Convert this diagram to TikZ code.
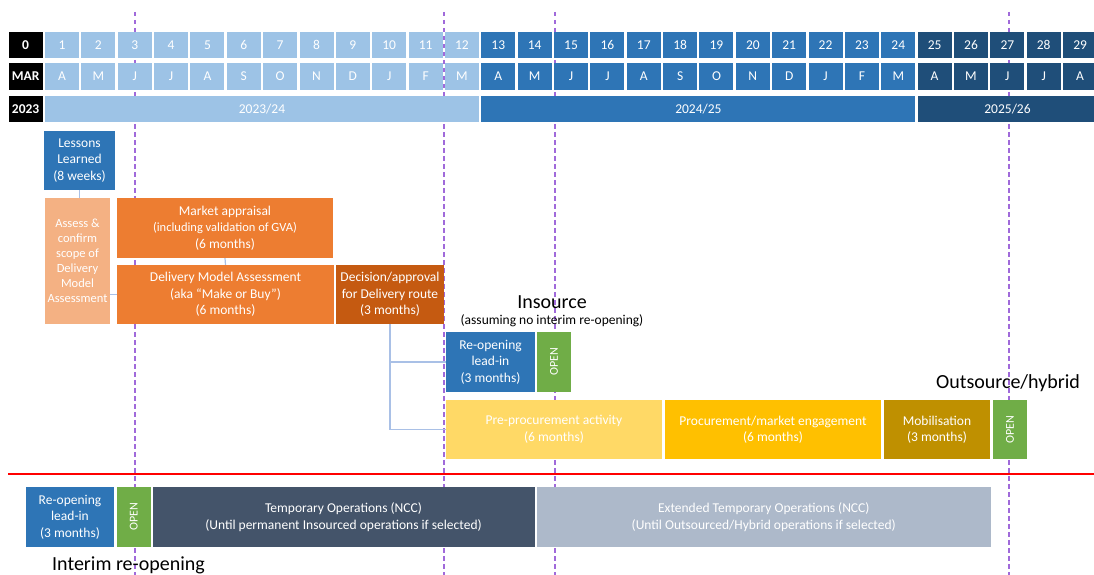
\documentclass[tikz,border=0pt]{standalone}
\usepackage{fontspec}
\setmainfont{Carlito}

\definecolor{lightblue}{HTML}{9DC3E6}
\definecolor{midblue}{HTML}{2E75B6}
\definecolor{darkblue}{HTML}{1F4E79}
\definecolor{paleorange}{HTML}{F4B183}
\definecolor{taskorange}{HTML}{ED7D31}
\definecolor{burnt}{HTML}{C55A11}
\definecolor{paleyellow}{HTML}{FFD966}
\definecolor{gold}{HTML}{FFC000}
\definecolor{ochre}{HTML}{BF9000}
\definecolor{opengreen}{HTML}{70AD47}
\definecolor{slate}{HTML}{44546A}
\definecolor{paleslate}{HTML}{ADB9CA}
\definecolor{milestone}{HTML}{A06ADA}
\definecolor{linkblue}{HTML}{A9C0E6}

\begin{document}
\begin{tikzpicture}[x=1pt, y=-1pt,
	cell/.style={rectangle, inner sep=0pt, minimum width=34pt, minimum height=26pt, text=white, font=\fontsize{13.5}{16}\selectfont},
	task/.style={rectangle, fill=#1, inner sep=0pt, text=white, align=center, font=\fontsize{13.5}{16.5}\selectfont},
	link/.style={draw=linkblue, line width=1.2pt},
	heading/.style={inner sep=0pt, text=black, font=\fontsize{20}{24}\selectfont}]
	\useasboundingbox (0,0) rectangle (1094,575);
	\clip (0,0) rectangle (1094,575);
	% milestone lines
	\foreach \x in {135,444,555,1009} {
		\draw[milestone, line width=1.5pt, dash pattern=on 4.5pt off 3.5pt] (\x,12) -- (\x,575);
	}
	% month grid
	\node[cell, fill=black, font=\fontsize{13.5}{16}\bfseries] (n0) at (25.64,45) {0};
	\node[cell, fill=black, minimum height=27pt, font=\fontsize{13.5}{16}\bfseries] (m0) at (25.64,76.5) {MAR};
	\node[cell, fill=black, font=\fontsize{13.5}{16}\bfseries] (y0) at (25.64,109) {2023};
	\foreach \m [count=\n] in {A,M,J,J,A,S,O,N,D,J,F,M,A,M,J,J,A,S,O,N,D,J,F,M,A,M,J,J,A} {
		\ifnum\n<13 \def\c{lightblue}\else\ifnum\n<25 \def\c{midblue}\else\def\c{darkblue}\fi\fi
		\node[cell, fill=\c] (n\n) at ({25.64+\n*36.36},45) {\n};
		\node[cell, fill=\c, minimum height=27pt] (m\n) at ({25.64+\n*36.36},76.5) {\m};
	}
	\node[cell, fill=lightblue, minimum width=434pt] (fy1) at (262,109) {2023/24};
	\node[cell, fill=midblue, minimum width=434pt] (fy2) at (698.4,109) {2024/25};
	\node[cell, fill=darkblue, minimum width=180pt] (fy3) at (1007.5,109) {2025/26};
	% assessment phase
	\node[task=midblue, minimum width=71pt, minimum height=59pt] (les) at (79.5,160.5) {Lessons\\Learned\\(8 weeks)};
	\node[task=paleorange, minimum width=65pt, minimum height=126pt, font=\fontsize{12.5}{15}\selectfont] (ass) at (77.5,261) {Assess \&\\confirm\\scope of\\Delivery\\Model\\Assessment};
	\node[task=taskorange, minimum width=216pt, minimum height=60pt] (mkt) at (225,228) {Market appraisal\\{\fontsize{12.5}{16}\selectfont(including validation of GVA)}\\(6 months)};
	\node[task=taskorange, minimum width=217pt, minimum height=59pt] (dma) at (225.5,294.5) {Delivery Model Assessment\\(aka “Make or Buy”)\\(6 months)};
	\node[task=burnt, minimum width=108pt, minimum height=59pt] (dec) at (390,294.5) {Decision/approval\\for Delivery route\\(3 months)};
	\draw[link] (les.south) -- (les.south |- ass.north);
	\draw[link] (ass.east |- dma.west) -- (dma.west);
	\draw[link] (mkt.south) -- (dma.north);
	% insource route
	\node[heading] (ins) at (552,302) {Insource};
	\node[heading, font=\fontsize{13.5}{16}\selectfont] (insnote) at (552,321) {(assuming no interim re-opening)};
	\node[task=midblue, minimum width=89pt, minimum height=60pt] (reo) at (490.5,362) {Re-opening\\lead-in\\(3 months)};
	\node[task=opengreen, minimum width=34pt, minimum height=60pt, font=\fontsize{12}{14}\selectfont] (open1) at (554,362) {\rotatebox{90}{OPEN}};
	% outsource route
	\node[heading] (outs) at (1008,383) {Outsource/hybrid};
	\node[task=paleyellow, minimum width=216pt, minimum height=59pt] (pre) at (554,429.5) {Pre-procurement activity\\(6 months)};
	\node[task=gold, minimum width=216pt, minimum height=59pt] (pro) at (773,429.5) {Procurement/market engagement\\(6 months)};
	\node[task=ochre, minimum width=106pt, minimum height=59pt] (mob) at (937,429.5) {Mobilisation\\(3 months)};
	\node[task=opengreen, minimum width=34pt, minimum height=59pt, font=\fontsize{12}{14}\selectfont] (open2) at (1010,429.5) {\rotatebox{90}{OPEN}};
	\draw[link] (dec.south) |- (reo.west);
	\draw[link] (dec.south) |- (pre.west);
	% interim re-opening
	\draw[red, line width=2pt] (8,474) -- (1094,474);
	\node[task=midblue, minimum width=88pt, minimum height=60pt] (ireo) at (70,517) {Re-opening\\lead-in\\(3 months)};
	\node[task=opengreen, minimum width=33.5pt, minimum height=60pt, font=\fontsize{12}{14}\selectfont] (iopen) at (133.75,517) {\rotatebox{90}{OPEN}};
	\node[task=slate, minimum width=382pt, minimum height=60pt] (tmp) at (343.5,517) {Temporary Operations (NCC)\\(Until permanent Insourced operations if selected)};
	\node[task=paleslate, minimum width=454.5pt, minimum height=60pt] (ext) at (763.75,517) {Extended Temporary Operations (NCC)\\(Until Outsourced/Hybrid operations if selected)};
	\node[heading] (interim) at (128.5,565) {Interim re-opening};
\end{tikzpicture}
\end{document}
